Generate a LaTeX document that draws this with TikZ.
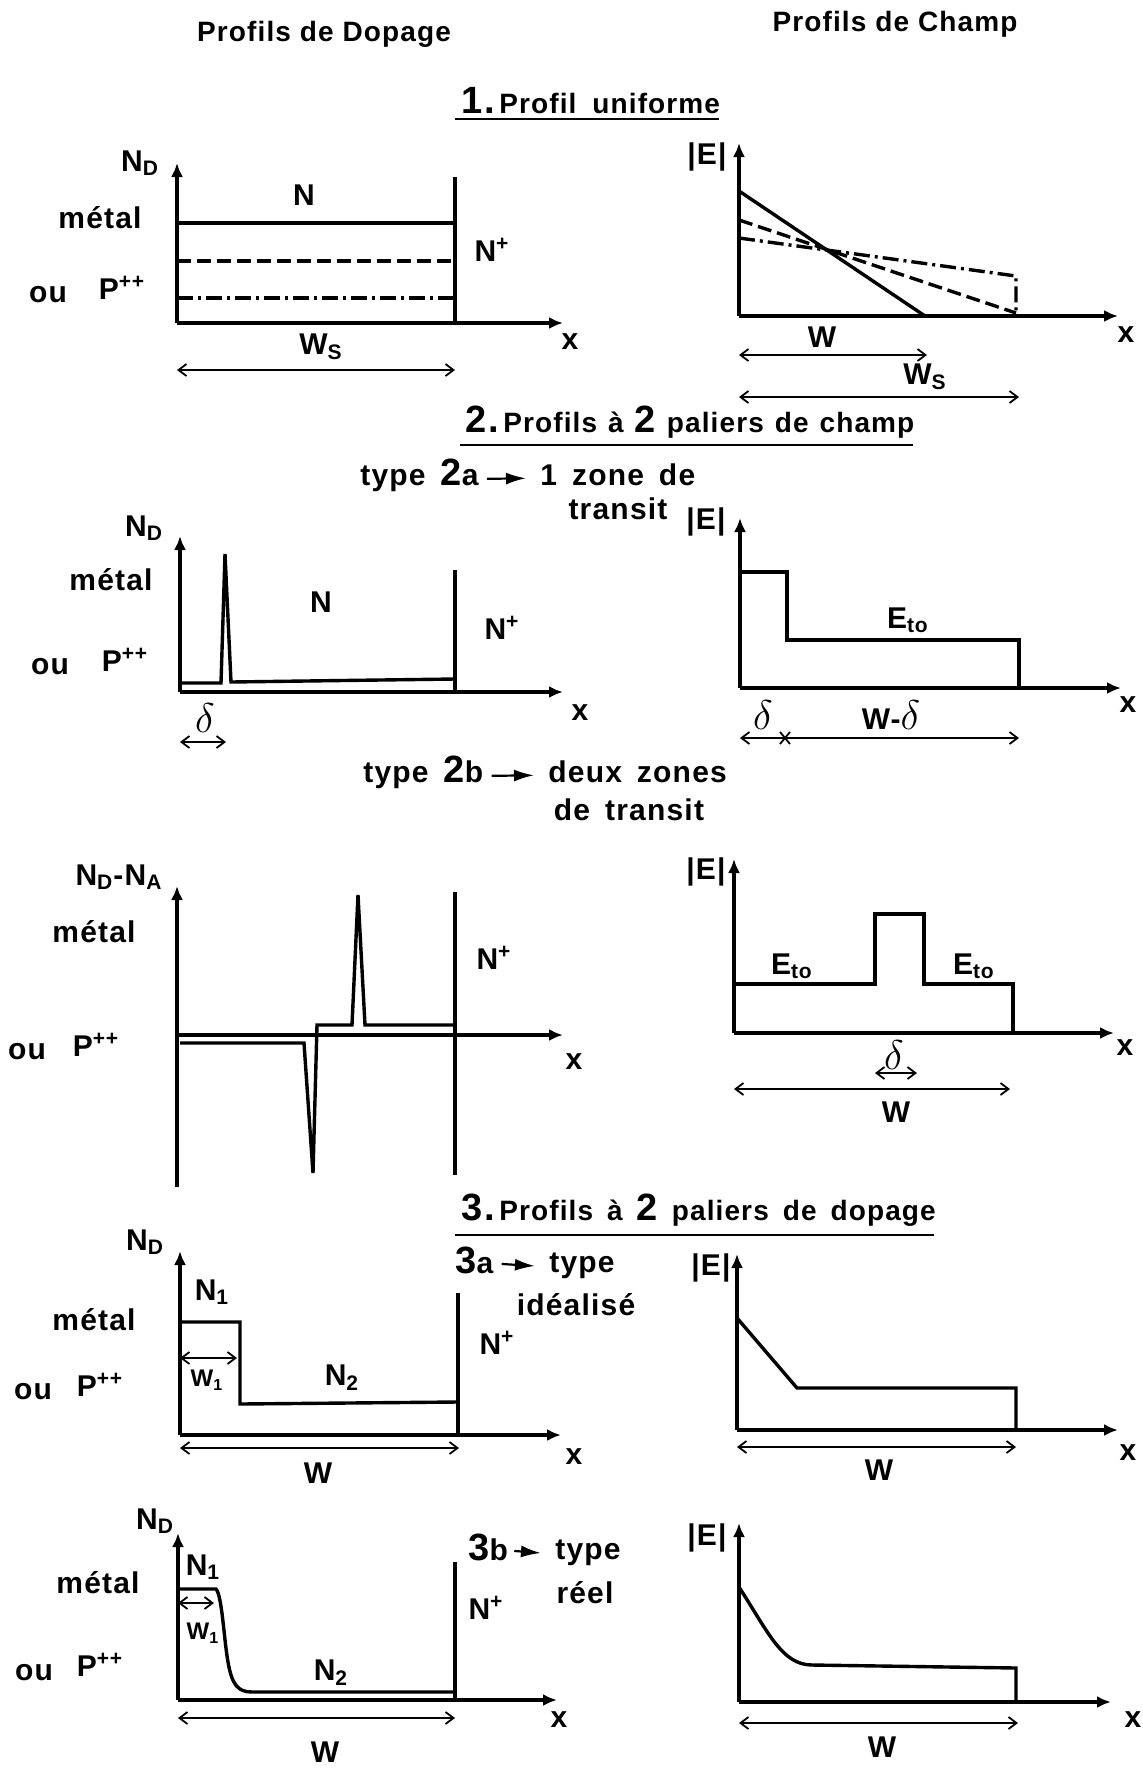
\documentclass[tikz,border=0pt]{standalone}
\usepackage{fontspec}
\setmainfont{Liberation Sans}[LetterSpace=4]
\usetikzlibrary{arrows.meta}

\tikzset{
  axe/.style={line width=1.8pt,-{Latex[length=7pt,width=6pt]}},
  prof/.style={line width=1.7pt,line join=miter},
  cote/.style={line width=0.9pt,{Straight Barb[length=4pt,width=6pt]}-{Straight Barb[length=4pt,width=6pt]}},
  lab/.style={font=\fontsize{15}{18}\selectfont\bfseries,inner sep=1pt},
  petit/.style={font=\fontsize{12}{14}\selectfont\bfseries,inner sep=1pt},
  titre/.style={font=\fontsize{14}{17}\selectfont\bfseries,inner sep=1pt,anchor=base west},
  grec/.style={font=\fontsize{22}{24}\selectfont,inner sep=1pt},
  fleche/.style={line width=1.1pt,-{Latex[length=10pt,width=6pt]}},
  tiret/.style={dash pattern=on 7pt off 3pt},
  mixte/.style={dash pattern=on 8pt off 2.5pt on 1.5pt off 2.5pt},
}
\newcommand{\gros}[1]{{\fontsize{19}{20}\selectfont #1}}

\begin{document}
\begin{tikzpicture}[x=0.5pt,y=-0.5pt]
  \useasboundingbox (0,0) rectangle (1143,1768);

  % column titles
  \node[lab,font=\fontsize{14}{17}\selectfont\bfseries] (tdop) at (324,34) {Profils de Dopage};
  \node[lab,font=\fontsize{14}{17}\selectfont\bfseries] (tchp) at (895,24) {Profils de Champ};

  % 1. Profil uniforme
  \node[titre] (h1) at (459,113) {\gros{1.}\,Profil\hspace{8pt}uniforme};
  \draw[line width=1.1pt] (455,119) -- (719,119);

  % dopage uniforme
  \draw[axe] (177,323) -- (177,163);
  \draw[axe] (177,323) -- (563,323);
  \draw[prof] (455,177) -- (455,323);
  \draw[prof] (177,223) -- (455,223);
  \draw[prof,tiret] (177,261) -- (455,261);
  \draw[prof,mixte] (177,298) -- (455,298);
  \draw[cote] (177,370) -- (455,370);
  \node[lab] (nd1) at (140,163) {N\textsubscript{D}};
  \node[lab] (met1) at (100,218) {métal};
  \node[lab] (ou1) at (48,295) {ou};
  \node[lab] (pp1) at (122,288) {P\textsuperscript{++}};
  \node[lab] (n1) at (304,195) {N};
  \node[lab] (np1) at (492,250) {N\textsuperscript{+}};
  \node[lab] (x1) at (570,342) {x};
  \node[lab] (ws1) at (321,347) {W\textsubscript{S}};

  % champ uniforme
  \draw[axe] (739,316) -- (739,143);
  \draw[axe] (739,316) -- (1118,316);
  \draw[prof] (739,191) -- (925,316);
  \draw[prof,tiret] (739,220) -- (1016,313);
  \draw[prof,mixte] (739,238) -- (1016,276) -- (1016,316);
  \draw[cote] (739,355) -- (927,355);
  \draw[cote] (739,397) -- (1019,397);
  \node[lab] (e1) at (707,157) {|E|};
  \node[lab] (x2) at (1126,335) {x};
  \node[lab] (w1) at (822,337) {W};
  \node[lab] (ws2) at (925,377) {W\textsubscript{S}};

  % 2. Profils a 2 paliers de champ
  \node[titre] (h2) at (463,432) {\gros{2.}\,Profils\hspace{5.5pt}à\hspace{5.5pt}\gros{2}\hspace{5.5pt}paliers\hspace{5.5pt}de\hspace{5.5pt}champ};
  \draw[line width=1.1pt] (460,445) -- (913,445);

  % type 2a
  \node[lab,anchor=base west] (t2a) at (358,485) {type\enspace\gros{2}a};
  \node[lab,anchor=base west] (z2a) at (538,485) {1\enspace zone\enspace de};
  \node[lab] (tr2a) at (618,509) {transit};
  \draw[fleche] ([xshift=3pt,yshift=-2pt]t2a.east) -- ([xshift=-6pt,yshift=-2pt]z2a.west);

  \draw[axe] (180,692) -- (180,536);
  \draw[axe] (180,692) -- (563,692);
  \draw[prof] (455,570) -- (455,692);
  \draw[prof] (180,683) -- (221,683) -- (225,554) -- (231,682) -- (455,679);
  \draw[cote] (180,742) -- (226,742);
  \node[lab] (nd2) at (144,528) {N\textsubscript{D}};
  \node[lab] (met2) at (111,580) {métal};
  \node[lab] (ou2) at (50,667) {ou};
  \node[lab] (pp2) at (125,660) {P\textsuperscript{++}};
  \node[lab] (n2) at (321,602) {N};
  \node[lab] (np2) at (502,628) {N\textsuperscript{+}};
  \node[lab] (x3) at (580,713) {x};
  \node[grec] (d1) at (205,718) {$\delta$};

  \draw[axe] (740,688) -- (740,518);
  \draw[axe] (740,688) -- (1121,688);
  \draw[prof] (740,572) -- (787,572) -- (787,640) -- (1019,640) -- (1019,688);
  \draw[cote] (740,738) -- (1019,738);
  \draw[line width=0.9pt] (780,732) -- (790,744) (780,744) -- (790,732);
  \node[lab] (e2) at (706,522) {|E|};
  \node[lab] (eto1) at (908,620) {E\textsubscript{to}};
  \node[lab] (x4) at (1128,705) {x};
  \node[grec] (d2) at (763,715) {$\delta$};
  \node[lab] (wd) at (891,715) {W-{\fontsize{22}{24}\selectfont$\delta$}};

  % type 2b
  \node[lab,anchor=base west] (t2b) at (361,782) {type\enspace\gros{2}b};
  \node[lab,anchor=base west] (z2b) at (546,782) {deux\enspace zones};
  \node[lab] (tr2b) at (629,810) {de\enspace transit};
  \draw[fleche] ([xshift=3pt,yshift=-2pt]t2b.east) -- ([xshift=-6pt,yshift=-2pt]z2b.west);

  \draw[axe] (177,1187) -- (177,886);
  \draw[axe] (177,1035) -- (563,1035);
  \draw[prof] (455,892) -- (455,1175);
  \draw[prof] (180,1043) -- (304,1043) -- (313,1173) -- (317,1025) -- (352,1025)
    -- (358,895) -- (365,1025) -- (453,1025);
  \node[lab] (ndna) at (119,877) {N\textsubscript{D}-N\textsubscript{A}};
  \node[lab] (met3) at (94,932) {métal};
  \node[lab] (np3) at (494,958) {N\textsuperscript{+}};
  \node[lab] (ou3) at (27,1052) {ou};
  \node[lab] (pp3) at (96,1045) {P\textsuperscript{++}};
  \node[lab] (x5) at (574,1062) {x};

  \draw[axe] (734,1033) -- (734,859);
  \draw[axe] (734,1033) -- (1114,1033);
  \draw[prof] (734,984) -- (875,984) -- (875,914) -- (924,914) -- (924,984) -- (1013,984) -- (1013,1033);
  \draw[cote] (875,1073) -- (917,1073);
  \draw[cote] (734,1089) -- (1010,1089);
  \node[lab] (e3) at (706,872) {|E|};
  \node[lab] (eto2) at (792,966) {E\textsubscript{to}};
  \node[lab] (eto3) at (974,966) {E\textsubscript{to}};
  \node[lab] (x6) at (1125,1048) {x};
  \node[grec] (d3) at (894,1055) {$\delta$};
  \node[lab] (w2) at (896,1112) {W};

  % 3. Profils a 2 paliers de dopage
  \node[titre] (h3) at (459,1220) {\gros{3.}\,Profils\enspace à\enspace\gros{2}\enspace paliers\enspace de\enspace dopage};
  \draw[line width=1.1pt] (455,1235) -- (934,1235);

  % type 3a
  \node[lab,anchor=base west] (t3a) at (453,1273) {\gros{3}a};
  \node[lab] (typ3a) at (582,1266) {type};
  \node[lab] (ideal) at (576,1305) {idéalisé};
  \draw[fleche] ([xshift=3pt,yshift=-2pt]t3a.east) -- ([xshift=-6pt]typ3a.west);

  \draw[axe] (180,1435) -- (180,1251);
  \draw[axe] (180,1435) -- (561,1435);
  \draw[prof] (458,1293) -- (458,1435);
  \draw[prof] (180,1322) -- (240,1322) -- (240,1404) -- (457,1402);
  \draw[cote] (180,1358) -- (237,1358);
  \draw[cote] (180,1448) -- (459,1448);
  \node[lab] (nd3) at (145,1242) {N\textsubscript{D}};
  \node[lab] (n1a) at (212,1292) {N\textsubscript{1}};
  \node[lab] (met4) at (94,1320) {métal};
  \node[petit] (w1a) at (207,1380) {W\textsubscript{1}};
  \node[lab] (n2a) at (342,1378) {N\textsubscript{2}};
  \node[lab] (np4) at (497,1343) {N\textsuperscript{+}};
  \node[lab] (ou4) at (33,1392) {ou};
  \node[lab] (pp4) at (100,1385) {P\textsuperscript{++}};
  \node[lab] (x7) at (574,1457) {x};
  \node[lab] (w3) at (318,1473) {W};

  \draw[axe] (737,1430) -- (737,1254);
  \draw[axe] (737,1430) -- (1118,1430);
  \draw[prof] (737,1318) -- (797,1388) -- (1016,1388) -- (1016,1430);
  \draw[cote] (737,1447) -- (1016,1447);
  \node[lab] (e4) at (711,1268) {|E|};
  \node[lab] (w4) at (879,1470) {W};
  \node[lab] (x8) at (1128,1453) {x};

  % type 3b
  \node[lab,anchor=base west] (t3b) at (466,1560) {\gros{3}b};
  \node[lab] (typ3b) at (588,1553) {type};
  \node[lab] (reel) at (585,1593) {réel};
  \draw[fleche] ([xshift=2pt,yshift=-2pt]t3b.east) -- ([xshift=-6pt]typ3b.west);

  \draw[axe] (178,1700) -- (178,1533);
  \draw[axe] (178,1700) -- (557,1700);
  \draw[prof] (455,1562) -- (455,1700);
  \draw[prof] (178,1589) -- (216,1589) .. controls (222,1595) and (224,1640) .. (228,1662)
    .. controls (232,1685) and (238,1692) .. (252,1692) -- (453,1692);
  \draw[cote] (178,1603) -- (214,1603);
  \draw[cote] (178,1718) -- (455,1718);
  \node[lab] (nd4) at (155,1521) {N\textsubscript{D}};
  \node[lab] (n1b) at (203,1567) {N\textsubscript{1}};
  \node[lab] (met5) at (98,1583) {métal};
  \node[petit] (w1b) at (203,1633) {W\textsubscript{1}};
  \node[lab] (n2b) at (331,1673) {N\textsubscript{2}};
  \node[lab] (np5) at (486,1608) {N\textsuperscript{+}};
  \node[lab] (ou5) at (34,1673) {ou};
  \node[lab] (pp5) at (100,1665) {P\textsuperscript{++}};
  \node[lab] (x9) at (559,1720) {x};
  \node[lab] (w5) at (325,1752) {W};

  \draw[axe] (739,1702) -- (739,1523);
  \draw[axe] (739,1702) -- (1111,1702);
  \draw[prof] (739,1587) .. controls (768,1632) and (782,1665) .. (812,1665) -- (1016,1668) -- (1016,1702);
  \draw[cote] (739,1723) -- (1018,1723);
  \node[lab] (e5) at (707,1538) {|E|};
  \node[lab] (w6) at (882,1747) {W};
  \node[lab] (x10) at (1133,1720) {x};
\end{tikzpicture}
\end{document}
